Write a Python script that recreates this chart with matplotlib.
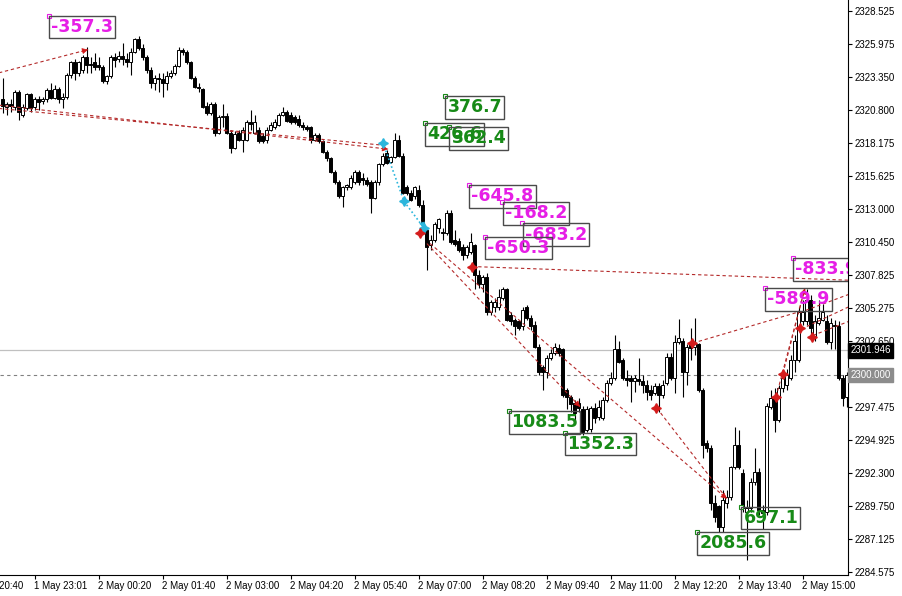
import matplotlib.pyplot as plt
import matplotlib.transforms as mtransforms
import numpy as np

plt.rcParams['font.family'] = ['Liberation Sans', 'DejaVu Sans']

# M5 candles
opens = [2321.6, 2321.0, 2321.2, 2321.0, 2322.2, 2320.4, 2320.9, 2322.0, 2321.0, 2321.6,
         2321.5, 2321.6, 2322.3, 2321.7, 2322.4, 2321.6, 2321.8, 2323.5, 2324.5, 2323.7,
         2323.9, 2324.9, 2324.4, 2324.5, 2324.3, 2324.1, 2323.0, 2323.4, 2324.9, 2324.8,
         2325.0, 2324.8, 2324.5, 2325.3, 2326.3, 2325.6, 2324.9, 2323.9, 2322.9, 2323.3,
         2323.2, 2322.9, 2323.4, 2323.7, 2324.2, 2325.5, 2325.3, 2324.5, 2323.3, 2322.6,
         2322.4, 2321.1, 2320.5, 2321.2, 2319.0, 2320.2, 2320.3, 2319.0, 2317.8, 2319.0,
         2318.4, 2318.4, 2319.8, 2319.0, 2319.2, 2318.7, 2318.4, 2319.2, 2319.4, 2319.6,
         2320.4, 2320.6, 2320.4, 2320.2, 2320.1, 2319.6, 2319.4, 2319.4, 2318.4, 2318.8,
         2318.3, 2317.5, 2317.0, 2315.9, 2315.1, 2314.0, 2314.7, 2314.7, 2315.1, 2315.9,
         2315.4, 2315.3, 2315.1, 2313.9, 2315.1, 2316.5, 2317.4, 2316.7, 2317.1, 2318.4,
         2317.2, 2314.7, 2314.3, 2314.0, 2314.5, 2313.3, 2311.4, 2310.2, 2310.6, 2311.5,
         2311.2, 2311.1, 2312.7, 2310.6, 2310.5, 2310.0, 2309.4, 2309.6, 2310.2, 2307.8,
         2307.1, 2307.7, 2304.9, 2305.3, 2305.3, 2306.0, 2306.7, 2304.7, 2304.3, 2304.2,
         2303.8, 2305.3, 2304.5, 2303.9, 2302.2, 2300.6, 2300.2, 2301.3, 2301.7, 2302.1,
         2302.0, 2298.8, 2298.3, 2297.8, 2297.8, 2297.3, 2295.7, 2295.8, 2297.4, 2296.7,
         2296.6, 2298.0, 2299.4, 2299.8, 2302.0, 2301.2, 2299.8, 2299.8, 2299.5, 2299.7,
         2299.5, 2299.2, 2298.8, 2298.6, 2299.1, 2298.4, 2299.4, 2301.4, 2299.8, 2302.6,
         2302.7, 2300.2, 2302.4, 2302.2, 2302.4, 2298.8, 2294.7, 2294.3, 2290.0, 2289.7,
         2288.1, 2290.0, 2290.4, 2292.8, 2294.5, 2292.3, 2289.3, 2289.6, 2291.6, 2292.4,
         2289.4, 2289.3, 2297.5, 2298.2, 2296.5, 2299.0, 2299.2, 2299.8, 2301.2, 2301.2,
         2304.2, 2304.2, 2305.9, 2303.0, 2304.1, 2304.3, 2304.2, 2302.6, 2303.9, 2303.8,
         2299.8, 2298.3]
highs = [2323.3, 2321.4, 2321.6, 2322.3, 2322.3, 2321.2, 2322.1, 2322.1, 2321.8, 2321.9,
         2321.8, 2322.5, 2322.9, 2322.7, 2322.6, 2322.1, 2323.7, 2324.6, 2324.8, 2324.6,
         2325.1, 2325.7, 2324.9, 2325.2, 2324.9, 2324.3, 2323.5, 2325.1, 2325.2, 2325.4,
         2326.0, 2325.2, 2325.6, 2326.4, 2326.6, 2325.9, 2325.1, 2324.1, 2323.5, 2323.7,
         2323.7, 2323.8, 2323.9, 2324.4, 2325.7, 2325.6, 2325.5, 2324.6, 2323.4, 2322.9,
         2322.5, 2321.4, 2321.4, 2321.4, 2320.4, 2321.2, 2320.5, 2319.2, 2319.1, 2319.2,
         2319.4, 2320.0, 2320.8, 2320.4, 2319.4, 2319.0, 2319.4, 2319.8, 2320.1, 2320.5,
         2321.0, 2320.8, 2320.6, 2320.4, 2320.4, 2319.8, 2319.6, 2319.5, 2319.0, 2319.0,
         2318.4, 2317.6, 2317.1, 2316.1, 2315.3, 2314.8, 2315.0, 2315.7, 2316.1, 2316.1,
         2315.8, 2315.5, 2315.3, 2315.3, 2316.6, 2317.4, 2317.6, 2317.2, 2319.0, 2318.8,
         2317.4, 2314.9, 2314.5, 2314.8, 2314.9, 2313.7, 2311.5, 2311.0, 2312.0, 2312.3,
         2311.5, 2312.9, 2312.9, 2311.4, 2310.7, 2310.3, 2310.2, 2311.1, 2310.3, 2308.2,
         2307.8, 2308.0, 2305.9, 2306.0, 2306.7, 2306.9, 2306.8, 2304.9, 2304.5, 2304.3,
         2305.3, 2305.5, 2304.7, 2304.2, 2302.4, 2300.8, 2301.6, 2302.0, 2302.5, 2302.4,
         2302.1, 2299.0, 2298.4, 2298.0, 2298.2, 2297.6, 2297.6, 2297.6, 2297.8, 2298.0,
         2298.3, 2299.6, 2300.2, 2303.1, 2302.7, 2301.3, 2300.4, 2300.0, 2300.0, 2301.3,
         2300.0, 2299.6, 2299.2, 2299.4, 2299.4, 2299.6, 2301.7, 2301.7, 2303.1, 2304.4,
         2302.9, 2302.4, 2303.7, 2304.5, 2302.5, 2299.0, 2294.9, 2294.5, 2290.6, 2289.8,
         2291.0, 2291.0, 2292.9, 2295.9, 2295.7, 2292.6, 2290.2, 2291.9, 2294.3, 2292.7,
         2289.8, 2297.8, 2298.8, 2299.0, 2299.2, 2300.2, 2300.5, 2301.6, 2303.1, 2305.3,
         2305.9, 2306.7, 2306.3, 2304.7, 2305.9, 2305.6, 2304.7, 2304.5, 2304.3, 2304.2,
         2300.0, 2300.2]
lows = [2320.5, 2320.4, 2320.6, 2320.8, 2320.0, 2320.2, 2320.8, 2320.6, 2320.8, 2320.8,
        2321.2, 2321.4, 2321.6, 2321.6, 2321.3, 2320.9, 2321.6, 2323.3, 2323.1, 2323.4,
        2323.7, 2323.7, 2323.7, 2323.9, 2323.9, 2322.9, 2322.8, 2323.3, 2324.1, 2324.5,
        2324.3, 2324.1, 2323.5, 2325.2, 2325.5, 2324.7, 2323.7, 2322.5, 2322.3, 2322.2,
        2321.8, 2322.3, 2323.3, 2323.5, 2324.1, 2325.1, 2324.4, 2323.2, 2322.5, 2322.2,
        2320.9, 2320.4, 2320.4, 2318.7, 2318.9, 2319.4, 2318.9, 2317.4, 2317.7, 2318.3,
        2317.5, 2318.3, 2319.2, 2318.9, 2318.2, 2318.2, 2318.2, 2319.1, 2319.3, 2319.5,
        2320.3, 2319.8, 2319.7, 2319.7, 2319.4, 2319.2, 2319.1, 2318.2, 2318.3, 2318.2,
        2317.4, 2316.8, 2315.8, 2315.0, 2313.9, 2313.2, 2314.5, 2314.6, 2315.0, 2314.9,
        2314.9, 2314.8, 2312.7, 2313.8, 2314.9, 2316.4, 2316.5, 2316.6, 2317.0, 2317.1,
        2314.2, 2314.1, 2313.6, 2313.8, 2313.2, 2311.5, 2308.2, 2309.8, 2310.4, 2311.1,
        2310.6, 2311.0, 2310.3, 2310.1, 2309.6, 2309.0, 2309.2, 2309.5, 2306.7, 2306.8,
        2306.5, 2304.7, 2304.7, 2304.9, 2305.1, 2305.9, 2304.2, 2303.9, 2303.1, 2303.5,
        2303.5, 2304.3, 2303.5, 2302.1, 2300.0, 2298.8, 2299.8, 2301.2, 2301.6, 2301.5,
        2298.3, 2297.3, 2297.1, 2296.5, 2297.1, 2295.3, 2295.5, 2295.5, 2296.2, 2296.5,
        2296.5, 2297.9, 2299.2, 2299.6, 2300.9, 2299.6, 2299.1, 2297.9, 2298.7, 2299.2,
        2298.6, 2298.0, 2298.0, 2298.4, 2297.1, 2298.2, 2299.2, 2299.6, 2298.6, 2302.4,
        2298.3, 2299.2, 2301.2, 2301.6, 2298.7, 2293.5, 2294.0, 2289.4, 2288.5, 2287.7,
        2287.7, 2289.6, 2290.2, 2292.6, 2292.6, 2289.3, 2285.5, 2289.3, 2291.4, 2289.0,
        2287.9, 2289.0, 2297.3, 2295.5, 2296.3, 2298.7, 2298.8, 2299.6, 2300.2, 2301.0,
        2303.9, 2303.9, 2303.1, 2302.7, 2303.9, 2304.2, 2302.4, 2302.0, 2302.0, 2299.6,
        2297.6, 2297.5]
closes = [2321.1, 2321.2, 2321.1, 2322.2, 2320.6, 2321.0, 2322.0, 2320.9, 2321.6, 2321.4,
          2321.6, 2322.3, 2321.7, 2322.4, 2321.6, 2321.8, 2323.5, 2324.5, 2323.7, 2324.5,
          2324.9, 2324.3, 2324.3, 2324.1, 2324.1, 2323.0, 2323.4, 2324.9, 2324.7, 2325.0,
          2324.8, 2324.5, 2325.3, 2326.3, 2325.6, 2324.9, 2323.9, 2322.9, 2323.3, 2323.2,
          2322.9, 2323.4, 2323.7, 2324.2, 2325.5, 2325.3, 2324.5, 2323.3, 2322.6, 2322.5,
          2321.0, 2320.5, 2321.2, 2319.0, 2320.2, 2320.3, 2319.0, 2317.8, 2318.9, 2318.4,
          2319.2, 2319.8, 2319.7, 2319.8, 2318.3, 2318.3, 2319.2, 2319.6, 2319.8, 2320.4,
          2320.6, 2319.9, 2319.8, 2319.8, 2319.6, 2319.4, 2319.3, 2318.4, 2318.8, 2318.3,
          2317.5, 2317.0, 2315.9, 2315.1, 2314.0, 2314.7, 2314.9, 2315.4, 2315.9, 2315.1,
          2315.3, 2315.0, 2313.9, 2315.1, 2316.5, 2317.2, 2316.6, 2317.1, 2318.4, 2317.2,
          2314.3, 2314.3, 2313.7, 2314.7, 2313.3, 2311.8, 2310.0, 2310.6, 2311.8, 2312.2,
          2311.1, 2312.7, 2310.4, 2310.3, 2309.8, 2309.4, 2310.0, 2310.4, 2307.8, 2307.1,
          2307.7, 2304.9, 2305.7, 2305.7, 2306.1, 2306.7, 2304.3, 2304.2, 2303.8, 2303.7,
          2305.1, 2304.5, 2303.8, 2302.2, 2300.2, 2300.2, 2301.3, 2301.7, 2302.2, 2301.7,
          2298.4, 2298.3, 2297.7, 2297.0, 2297.4, 2295.5, 2297.3, 2297.4, 2296.6, 2297.5,
          2298.0, 2299.4, 2299.8, 2302.0, 2301.0, 2299.8, 2299.6, 2299.5, 2299.8, 2299.5,
          2299.2, 2298.7, 2298.4, 2299.1, 2298.4, 2299.2, 2301.4, 2299.8, 2302.6, 2302.9,
          2300.2, 2302.2, 2302.1, 2302.5, 2298.8, 2294.5, 2294.3, 2290.0, 2288.9, 2288.1,
          2290.2, 2290.4, 2292.8, 2294.5, 2292.8, 2289.6, 2289.6, 2291.6, 2292.4, 2289.4,
          2289.2, 2297.6, 2298.2, 2296.5, 2299.0, 2299.8, 2300.0, 2301.2, 2302.7, 2304.9,
          2304.9, 2305.9, 2303.7, 2304.2, 2304.5, 2304.9, 2302.6, 2304.1, 2303.8, 2299.8,
          2298.2, 2300.0]

time_ticks = [8, 24, 40, 56, 72, 88, 104, 120, 136, 152, 168, 184, 200]
time_labels = ['1 May 23:01', '2 May 00:20', '2 May 01:40', '2 May 03:00', '2 May 04:20',
               '2 May 05:40', '2 May 07:00', '2 May 08:20', '2 May 09:40', '2 May 11:00',
               '2 May 12:20', '2 May 13:40', '2 May 15:00']
first_label = '1 May 20:40'
first_label_bar = -8

price_ticks = [2284.575, 2287.125, 2289.750, 2292.300, 2294.925, 2297.475, 2302.650,
               2305.275, 2307.825, 2310.450, 2313.000, 2315.625, 2318.175, 2320.800,
               2323.350, 2325.975, 2328.525]
bid_price = 2301.946
level_price = 2300.000

# indicator trend lines: start bar, start price, end bar, end price
line_x0 = [-8, -8, -8, 106.1, 106.9, 163.6, 117.4, 172.6, 199.4, 201.1, 202.6, 193.4, 195.1]
line_y0 = [2323.1, 2321.4, 2321.1, 2310.3, 2310.3, 2297.4, 2308.5, 2302.5, 2304.9, 2303.8,
           2303.1, 2298.3, 2300.1]
line_x1 = [21.4, 96.4, 95.4, 144.4, 181.1, 181.1, 214, 198.6, 214, 214, 214, 200.6, 195.1]
line_y1 = [2325.5, 2317.7, 2318.0, 2297.5, 2290.3, 2290.3, 2307.4, 2304.9, 2306.6, 2305.7,
           2304.5, 2306.8, 2300.1]
line_arrow = [True, True, False, True, True, False, False, False, False, False, False, True, False]
line_x1[12] = 200.6
line_y1[12] = 2306.8

cyan_bars = [95.1, 100.4, 105.4]
cyan_prices = [2318.2, 2313.6, 2311.5]

star_bars = [104.4, 117.4, 163.4, 172.4, 193.4, 195.1, 199.4, 202.4]
star_prices = [2311.1, 2308.5, 2297.4, 2302.5, 2298.3, 2300.1, 2303.7, 2303.0]

label_texts = ['-357.3', '376.7', '426.6', '362.4', '-645.8', '-168.2', '-683.2', '-650.3',
               '1083.5', '1352.3', '2085.6', '697.1', '-833.9', '-589.9']
label_bars = [11.6, 110.6, 105.6, 111.6, 116.6, 124.9, 129.9, 120.6,
              126.6, 140.6, 173.6, 184.6, 197.6, 190.6]
label_prices = [2328.14, 2321.87, 2319.75, 2319.44, 2314.89, 2313.56, 2311.91, 2310.82,
                2297.18, 2295.46, 2287.70, 2289.66, 2309.17, 2306.82]

MAGENTA = '#e61ee6'
GREEN = '#178a17'
label_colors = [GREEN if not t.startswith('-') else MAGENTA for t in label_texts]

fig = plt.figure(figsize=(9.02, 5.96), dpi=100)
fig.patch.set_facecolor('white')
ax = fig.add_axes([0, 21 / 596, 848 / 902, 575 / 596])
ax.set_facecolor('white')
ax.set_xlim(-0.625, 211.375)
ax.set_ylim(2329.387 - 575 / 12.76, 2329.387)

# level lines
ax.axhline(bid_price, color='#c0c0c0', lw=0.9, zorder=1)
ax.axhline(level_price, color='#808080', lw=0.8, ls=(0, (3, 3)), zorder=1)

# candles
x = np.arange(len(closes))
o = np.array(opens)
h = np.array(highs)
l = np.array(lows)
c = np.array(closes)
up = c >= o
ax.vlines(x, l, h, color='black', lw=0.8, zorder=2)
ax.bar(x[up], (c - o)[up], bottom=o[up], width=0.55, color='white',
       edgecolor='black', lw=0.7, zorder=3)
ax.bar(x[~up], (o - c)[~up], bottom=c[~up], width=0.55, color='black',
       edgecolor='black', lw=0.7, zorder=3)

# red dashed trend lines
RED = '#b42a2a'
for xa, ya, xb, yb, arr in zip(line_x0, line_y0, line_x1, line_y1, line_arrow):
    ax.plot([xa, xb], [ya, yb], color=RED, lw=0.8, ls=(0, (3, 2.5)), zorder=4)
    if arr:
        pa = ax.transData.transform((xa, ya))
        pb = ax.transData.transform((xb, yb))
        d = np.hypot(*(pb - pa))
        t = 1 - 7 / d
        ax.annotate('', xy=(xb, yb), xytext=(xa + t * (xb - xa), ya + t * (yb - ya)),
                    arrowprops=dict(arrowstyle='-|>', color='#d01818', lw=0.5,
                                    mutation_scale=9, shrinkA=0, shrinkB=0),
                    zorder=5)

# cyan signal path
CYAN = '#2bb6dc'
ax.plot(cyan_bars, cyan_prices, color=CYAN, lw=1.2, ls=(0, (1, 1.5)), zorder=4)
ax.plot(cyan_bars, cyan_prices, ls='none', marker=(4, 1, 0), ms=7, color=CYAN, zorder=5)
ax.annotate('', xy=(cyan_bars[-1], cyan_prices[-1]),
            xytext=(cyan_bars[-1] - 0.6, cyan_prices[-1] + 0.5),
            arrowprops=dict(arrowstyle='-|>', color=CYAN, lw=0.5, mutation_scale=9,
                            shrinkA=0, shrinkB=0), zorder=5)

# red star markers
ax.plot(star_bars, star_prices, ls='none', marker=(4, 1, 0), ms=7, color='#d41c1c', zorder=5)

# value labels
for txt, col, b, p in zip(label_texts, label_colors, label_bars, label_prices):
    ax.plot(b, p, marker='s', ms=3, mfc='white', mec=col, mew=0.8, zorder=6)
    a = ax.annotate(txt, xy=(b, p), xytext=(2.5, -2.5), textcoords='offset pixels',
                    ha='left', va='top', fontsize=12.5, fontweight='bold', color=col,
                    family='DejaVu Sans',
                    bbox=dict(boxstyle='square,pad=0.12', fc='none', ec='#4a4a4a', lw=1.0),
                    zorder=7)
    a.set_clip_path(ax.patch)
    a.set_clip_on(True)

# axes styling
for side in ['top', 'left']:
    ax.spines[side].set_visible(False)
for side in ['right', 'bottom']:
    ax.spines[side].set_color('black')
    ax.spines[side].set_linewidth(0.8)
ax.yaxis.tick_right()
ax.set_yticks(price_ticks)
ax.set_yticklabels(['%.3f' % v for v in price_ticks])
ax.tick_params(axis='y', direction='out', length=3, pad=1.5, labelsize=7, width=0.8)
ax.set_xticks(time_ticks)
ax.set_xticklabels(time_labels, ha='left')
ax.tick_params(axis='x', direction='out', length=3, pad=1.5, labelsize=7, width=0.8)
ax.annotate(first_label, xy=(first_label_bar, 0), xycoords=('data', 'axes fraction'),
            xytext=(0, -4.6), textcoords='offset points', ha='left', va='top',
            fontsize=7, annotation_clip=False)

# price tags on the scale
trans = mtransforms.blended_transform_factory(ax.transAxes, ax.transData)
ax.text(1.003, bid_price, '%.3f' % bid_price, transform=trans, ha='left', va='center',
        fontsize=7, color='white', clip_on=False, zorder=10,
        bbox=dict(boxstyle='square,pad=0.25', fc='black', ec='black'))
ax.text(1.003, level_price, '%.3f' % level_price, transform=trans, ha='left', va='center',
        fontsize=7, color='white', clip_on=False, zorder=10,
        bbox=dict(boxstyle='square,pad=0.25', fc='#8c8c8c', ec='#8c8c8c'))

fig.savefig('out.png', dpi=100)
